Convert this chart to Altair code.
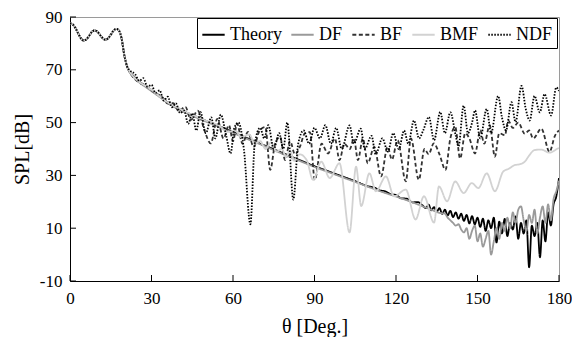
import altair as alt
import pandas as pd

# ---- data ----
head_x = [0, 1, 2, 3, 4, 5, 6, 7, 8, 9, 10, 11, 12, 13, 14, 15, 16, 17, 18, 19, 20, 21]
head_y = [87.6, 87.2, 85.8, 83.8, 82.0, 81.1, 81.5, 82.8, 84.3, 84.9, 84.5, 83.3,
          82.0, 81.4, 81.9, 83.3, 84.8, 85.5, 84.9, 81.8, 75.5, 71.3]

theory_x = [22, 23, 24, 26, 28, 30, 33, 36, 40, 45, 50, 55, 60, 65, 70, 75, 80, 85, 90,
            95, 100, 105, 110, 112, 114, 116, 118, 120, 122, 124, 126, 128, 130,
            131, 132, 133, 134, 135, 136, 137, 138, 139, 140, 141, 142, 143, 144, 145,
            146, 147, 148, 149, 150, 151, 152, 153, 154, 155, 156, 157, 158, 159, 160,
            161, 162, 163, 164, 165, 166, 167, 168, 169, 170, 171, 172, 173, 174, 175,
            176, 177, 178, 179, 180]
theory_y = [69.2, 68.0, 66.9, 65.1, 63.8, 62.3, 60.0, 57.7, 55.3, 52.9, 50.7, 48.6, 46.4,
            44.2, 42.0, 39.9, 37.7, 35.6, 33.5, 31.6, 29.7, 27.8, 25.8, 25.4, 24.3, 24.0,
            22.9, 22.6, 21.3, 21.2, 19.8, 19.9, 18.4,
            17.6, 18.9, 16.8, 18.0, 16.3, 17.6, 15.4, 17.0, 14.8, 16.6, 14.2, 16.0, 13.6,
            15.5, 12.8, 15.0, 11.8, 14.6, 11.5, 14.0, 10.5, 13.6, 9.0, 13.0, 10.0, 14.0,
            4.6, 12.5, 8.0, 13.5, 7.0, 12.0, 9.5, 14.5, 6.0, 12.0, 8.0, 13.0, -4.8, 11.0,
            7.0, 12.0, -1.0, 13.0, 5.0, 16.0, 11.0, 19.0, 22.0, 29.0]

df_x = [22, 23, 24, 26, 28, 30, 33, 36, 40, 45, 50, 55, 60, 65, 70, 75, 80, 85, 90, 95,
        100, 105, 110, 115, 120, 125, 130, 133, 136, 138, 139, 140, 141, 142, 143, 144,
        145, 146, 147, 148, 149, 150, 151, 152, 153, 154, 155, 156, 157, 158, 159, 160,
        161, 162, 163, 164, 165, 166, 167, 168, 169, 170, 171, 172, 173, 174, 175, 176,
        177, 178, 179, 180]
df_y = [69.0, 67.7, 66.6, 64.8, 63.4, 61.9, 59.7, 57.4, 55.0, 52.6, 50.4, 48.3, 46.1,
        43.9, 41.8, 39.6, 37.4, 35.3, 33.2, 31.3, 29.4, 27.5, 25.6, 23.7, 22.0, 20.2,
        18.2, 17.0, 15.8, 15.5, 14.0, 13.0, 12.0, 11.0, 11.5, 9.5, 8.4, 10.0, 6.0, 9.0,
        11.0, 5.0, 8.0, 3.0, 6.0, 9.0, 0.0, 5.0, 10.0, 6.0, 12.0, 9.0, 14.0, 10.0, 16.0,
        12.0, 17.0, 18.3, 13.0, 9.0, 15.0, 12.0, 17.0, 8.0, 14.0, 18.3, 12.0, 19.0, 13.0,
        21.0, 24.0, 28.0]

bf_x = [22, 25, 28, 31, 34, 36, 38, 40, 42.5, 44.5, 47, 49.5, 51.8, 54.2, 56.5, 58.5, 60,
        61.5, 63.5, 65.5, 67.6, 69.8, 71.9, 73.7, 75.5, 77.3, 79.2, 81, 82.8, 84.6, 86.5,
        88.3, 90.1, 92.6, 95, 97.5, 99.2, 101, 103, 104.5, 106, 107.8, 109.6, 112, 114.5,
        116.9, 118.5, 120.6, 123.6, 125.5, 128.4, 130.5, 132, 133.9, 136, 138.2, 140,
        141.8, 143.6, 145.5, 147, 149.1, 151, 152.5, 154.5, 156.4, 158, 160.1, 161.3,
        163, 165, 167.4, 169, 170.5, 173.5, 176.5, 178.5, 180]
bf_y = [69.1, 65.5, 63.9, 61.4, 59.6, 57.2, 57.4, 54.4, 56.0, 51.0, 54.5, 47.0, 42.1,
        51.4, 44.0, 49.0, 43.0, 49.6, 42.0, 46.5, 40.8, 47.0, 48.3, 32.1, 42.0, 44.6,
        35.8, 43.0, 38.0, 40.8, 46.0, 46.4, 28.3, 42.0, 38.3, 44.0, 35.8, 42.0, 40.0,
        44.0, 35.8, 44.0, 34.6, 40.8, 29.6, 40.8, 36.0, 43.3, 27.7, 44.0, 28.3, 40.0,
        38.0, 42.1, 38.0, 32.1, 44.0, 48.3, 36.4, 46.0, 44.0, 38.3, 47.0, 42.0, 49.0,
        37.1, 46.0, 45.2, 50.8, 48.0, 50.0, 45.8, 47.0, 44.0, 47.7, 38.9, 45.0, 47.0]

bmf_x = [22, 25, 28, 30, 35, 40, 45, 50, 55, 58, 61, 63, 66, 68, 70, 72, 74, 76, 78, 79.5,
         81, 82.5, 84.5, 87.1, 89.5, 92.5, 95.6, 99.2, 102.9, 105.3, 107.2, 110.2, 112.6,
         116.3, 119.3, 123.6, 127.2, 130.3, 134, 135.8, 138.8, 141.8, 144.9, 147.9, 150.3,
         153.4, 156.4, 159.5, 161.5, 163.7, 165.5, 167.4, 169, 171, 173.5, 176.5, 179.6,
         180]
bmf_y = [69.3, 65.8, 63.8, 62.4, 58.3, 55.4, 53.0, 50.8, 48.8, 46.5, 46.8, 44.5, 45.5,
         42.0, 43.0, 40.0, 42.5, 39.0, 40.0, 37.0, 39.5, 35.5, 38.0, 35.8, 28.3, 35.2,
         29.0, 34.6, 8.4, 33.3, 18.4, 30.8, 24.0, 29.6, 22.1, 24.6, 13.3, 22.1, 12.1,
         25.8, 20.2, 27.7, 23.3, 27.1, 25.2, 30.8, 24.0, 31.5, 32.5, 33.9, 34.2, 35.2,
         37.5, 39.6, 39.8, 38.6, 40.2, 40.4]

ndf_x = [22, 24, 25.5, 27, 28.5, 30, 31.5, 33, 34.5, 36, 37.5, 39, 40.5, 42, 43.5, 45,
         46.5, 48, 50, 52, 53.5, 55.5, 57.5, 59.1, 60.5, 62, 64, 66.4, 68, 70, 71.5, 73,
         75, 77, 78.5, 80, 82.2, 84, 86, 88, 90, 92, 94, 96, 98, 100, 102.9, 104.5, 107,
         108.5, 111, 112.5, 115, 117, 119, 121, 123, 124.5, 126.6, 128.5, 130, 132.1, 134,
         136.3, 138, 140, 142, 143, 144.9, 146.5, 148, 149.1, 151, 153.4, 155, 157.6, 159,
         160.5, 162.5, 164, 166.2, 167.8, 169.2, 171, 172.9, 174.7, 177.1, 179, 180]
ndf_y = [69.8, 68.3, 65.8, 66.8, 63.6, 64.3, 61.2, 62.2, 58.3, 59.8, 55.8, 57.3, 53.6,
         54.6, 49.5, 53.5, 47.0, 54.0, 46.0, 52.0, 44.0, 53.0, 45.0, 38.3, 48.0, 50.0,
         40.0, 11.5, 42.0, 48.0, 44.0, 49.0, 40.0, 46.0, 40.0, 50.0, 20.8, 42.0, 47.0,
         42.0, 48.0, 44.0, 49.0, 42.0, 48.0, 40.0, 48.9, 42.0, 47.7, 40.0, 45.0, 38.0,
         44.0, 39.0, 46.0, 40.0, 47.0, 42.0, 50.8, 44.0, 47.0, 52.1, 43.3, 54.0, 46.0,
         53.9, 45.0, 41.0, 56.4, 46.0, 50.0, 54.6, 44.0, 55.2, 46.0, 60.1, 52.0, 47.0,
         57.7, 50.2, 63.9, 55.0, 50.8, 60.1, 53.9, 60.8, 52.7, 63.3, 62.0]

series_names = ["Theory", "DF", "BF", "BMF", "NDF"]
series_x = [theory_x, df_x, bf_x, bmf_x, ndf_x]
series_y = [theory_y, df_y, bf_y, bmf_y, ndf_y]
colors = ["#000000", "#9a9a9a", "#333333", "#d2d2d2", "#000000"]
dashes = [[1, 0], [1, 0], [4, 2.5], [1, 0], [1.5, 1.5]]
widths = [1.8, 1.8, 1.1, 1.3, 1.1]

x_ticks = [0, 30, 60, 90, 120, 150, 180]
y_ticks = [-10, 10, 30, 50, 70, 90]

W, H = 489, 264
FONT = "Liberation Serif"

xscale = alt.Scale(domain=[0, 180], nice=False, zero=False)
yscale = alt.Scale(domain=[-10, 90], nice=False, zero=False)

axis_x = alt.Axis(values=x_ticks, title="θ [Deg.]", tickSize=0, labelPadding=9,
                  labelFlush=False, grid=False, domainColor="black", domainWidth=1,
                  labelFont=FONT, labelFontSize=17, labelColor="black",
                  labelExpr="datum.value + ''",
                  titleFont=FONT, titleFontSize=20, titleFontWeight="normal",
                  titleColor="black", titleY=45, titleBaseline="middle")
axis_y = alt.Axis(values=y_ticks, title="SPL[dB]", tickSize=0, labelPadding=8,
                  grid=False, domainColor="black", domainWidth=1,
                  labelFont=FONT, labelFontSize=17, labelColor="black",
                  labelExpr="datum.value + ''",
                  titleFont=FONT, titleFontSize=20, titleFontWeight="normal",
                  titleColor="black", titleX=-48, titleY=H / 2, titleAngle=270,
                  titleBaseline="middle", titleAlign="center")

X = alt.X("x:Q", scale=xscale, axis=axis_x)
Y = alt.Y("y:Q", scale=yscale, axis=axis_y)

legend = alt.Legend(title=None, orient="none", legendX=127, legendY=1,
                    direction="horizontal", columns=5, symbolType="stroke",
                    symbolSize=500, labelFont=FONT, labelFontSize=18,
                    labelColor="black", labelOffset=4, columnPadding=5, padding=4,
                    strokeColor="black", fillColor="white", labelBaseline="middle")

color = alt.Color("series:N", scale=alt.Scale(domain=series_names, range=colors),
                  legend=legend, sort=series_names)
dash = alt.StrokeDash("series:N", scale=alt.Scale(domain=series_names, range=dashes),
                      legend=legend, sort=series_names)
sw = alt.StrokeWidth("series:N", scale=alt.Scale(domain=series_names, range=widths),
                     legend=legend, sort=series_names)

layers = []
for name, xs, ys in zip(series_names, series_x, series_y):
    d = pd.DataFrame({"x": head_x + xs, "y": head_y + ys, "series": name})
    layers.append(
        alt.Chart(d).mark_line(interpolate="monotone", clip=True)
        .encode(x=X, y=Y, color=color, strokeDash=dash, strokeWidth=sw)
    )

xt = alt.Chart(pd.DataFrame({"x": x_ticks})).mark_rule(color="black", strokeWidth=1).encode(
    x=X, y=alt.value(H), y2=alt.value(H - 6))
yt = alt.Chart(pd.DataFrame({"y": y_ticks})).mark_rule(color="black", strokeWidth=1).encode(
    y=Y, x=alt.value(0), x2=alt.value(6))

chart = alt.layer(*layers, xt, yt).properties(
    width=W, height=H,
    padding={"left": 62, "top": 9, "right": 13, "bottom": 56},
    autosize=alt.AutoSizeParams(type="none"),
    background="white",
).configure_view(stroke="#9a9a9a", strokeWidth=1)

chart.save("out.html", embed_options={"renderer": "svg", "actions": False})
